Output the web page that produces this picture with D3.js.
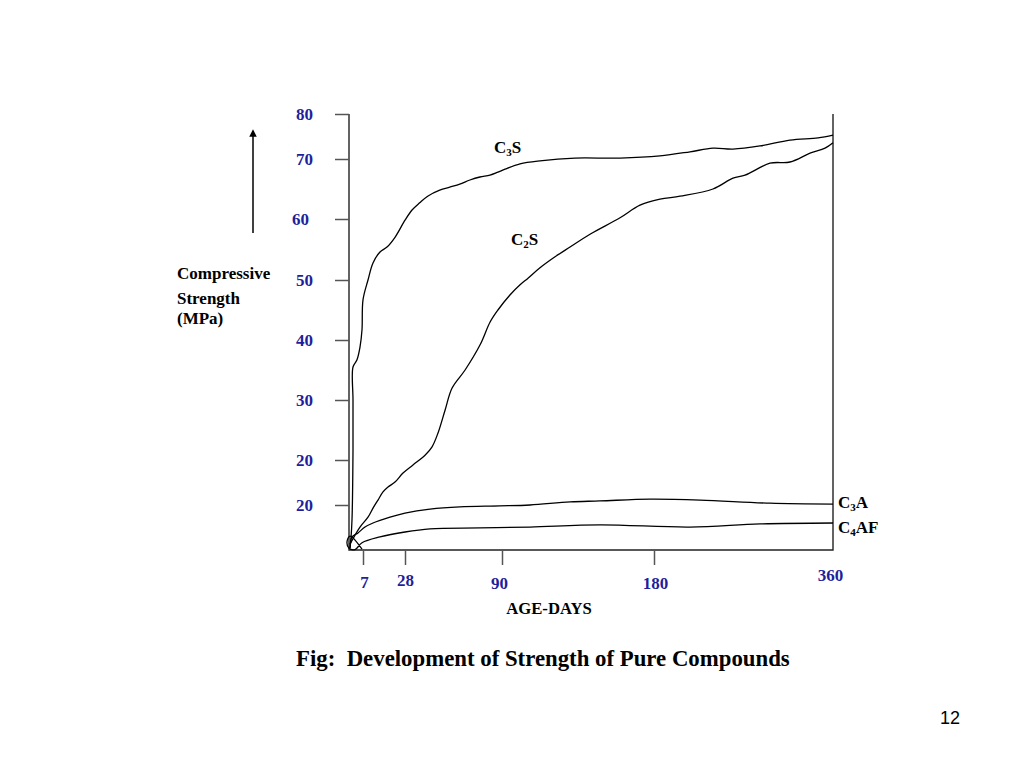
<!DOCTYPE html>
<html>
<head>
<meta charset="utf-8">
<script src="https://cdn.jsdelivr.net/npm/d3@7"></script>
<style>
  body { margin: 0; background: #fff; }
  svg { display: block; }
  .serif { font-family: "Liberation Serif", "Times New Roman", serif; font-weight: bold; }
</style>
</head>
<body>
<div id="chart"></div>
<script>
// data (days, strength on the chart's own axis)
const c3sDays = [0.5, 1, 1.5, 2, 2, 2, 4, 5.5, 6.5, 7, 9.5, 12, 15.5, 19, 23, 28, 32.5, 37.4, 42.5, 50.2, 56.6, 63, 69.5, 75.9, 82.3, 87.4, 91.8, 100.7, 112.5, 133.2, 159.9, 186, 216.2, 239.3, 259.4, 286.6, 316.8, 345, 360];
const c3sVals = [0.4, 2.7, 6.7, 21.7, 30, 35.5, 36.7, 38.8, 41.7, 46.7, 50, 52.8, 54.6, 55.4, 57, 59.8, 61.5, 62.7, 63.8, 64.8, 65.3, 65.8, 66.5, 67, 67.3, 67.8, 68.3, 69.2, 69.7, 70.2, 70.2, 70.7, 71.6, 72.4, 72.2, 72.9, 74.2, 74.7, 75.3];

const c2sDays = [0.5, 3, 5.5, 9.5, 12, 14.5, 17, 19.5, 23, 27, 33.1, 40.8, 45.3, 49.1, 53.6, 58.1, 66.4, 76, 82.4, 87.4, 94.7, 100.7, 105.4, 112.5, 121.4, 130.3, 142.1, 159.9, 171.7, 186, 206.2, 239.3, 259.4, 271.5, 296.6, 316.8, 336.9, 352, 360];
const c2sVals = [1.3, 3.3, 5.1, 7.3, 9.3, 11.1, 12.9, 14, 15.1, 17.1, 18.9, 20.8, 22.2, 24.5, 28.3, 32, 35, 39.2, 43, 45, 47.5, 49.2, 50.3, 52, 53.8, 55.4, 57.5, 60.2, 62.3, 63.3, 63.8, 65, 66.8, 67.3, 69.3, 69.5, 71.3, 72.4, 73.6];

const c3aDays = [0.5, 1.5, 4.5, 8, 12, 20.5, 28, 44, 63.1, 88.7, 106.6, 130.3, 148, 177.6, 226.3, 296.6, 360];
const c3aVals = [0.4, 2.9, 3.8, 5.1, 6, 7.3, 8.2, 9.1, 9.6, 9.8, 10, 10.7, 10.9, 11.3, 11.1, 10.4, 10.2];

// C4AF starts with the small loop drawn at the origin
const c4afDays = [6.5, 0.5, -1, 0, 3, 6.5, 15.5, 28, 44, 76, 106.6, 148, 216.2, 286.6, 360];
const c4afVals = [0.2, 3.1, 1.8, 0.4, 0.1, 1.6, 2.9, 4, 4.7, 4.9, 5.1, 5.6, 5.1, 5.8, 6];

const seriesNames = ["C3S", "C2S", "C3A", "C4AF"];

// axis breakpoints as drawn on the slide (uneven spacing)
const xBreaks = [0, 7, 28, 90, 180, 360];
const yBreaks = [0, 10, 20, 30, 40, 50, 60, 70, 80];
const xTickVals = [7, 28, 90, 180, 360];
const xTickLabels = ["7", "28", "90", "180", "360"];
const yTickVals = [10, 20, 30, 40, 50, 60, 70, 80];
const yTickLabels = ["20", "20", "30", "40", "50", "60", "70", "80"];

const width = 1024, height = 768;
const blue = "#1f1f9c";

const svg = d3.select("#chart")
  .append("svg")
  .attr("width", width)
  .attr("height", height);

// piecewise scales to follow the hand-placed ticks
const x = d3.scaleLinear()
  .domain(xBreaks)
  .range([349, 363, 405, 502, 654, 833]);

const y = d3.scaleLinear()
  .domain(yBreaks)
  .range([550, 505, 460, 400, 340, 280, 219, 159, 114]);

// frame: left, bottom, right
svg.append("path")
  .attr("d", `M${x(0)},${y(80)}V${y(0)}H${x(360)}V${y(80)}`)
  .attr("fill", "none")
  .attr("stroke", "#222")
  .attr("stroke-width", 1.4);

// y axis
const yAxis = svg.append("g")
  .attr("transform", `translate(${x(0)},0)`)
  .call(d3.axisLeft(y)
    .tickValues(yTickVals)
    .tickFormat((d, i) => yTickLabels[i])
    .tickSize(14)
    .tickPadding(22));
yAxis.select(".domain").remove();
yAxis.selectAll(".tick line").attr("stroke", "#555").attr("stroke-width", 1.5);
const yLabelNudge = { 60: -4 };
yAxis.selectAll(".tick text")
  .attr("class", "serif")
  .attr("fill", blue)
  .style("font-size", "17px")
  .attr("dx", d => yLabelNudge[d] || 0)
  .attr("dy", "0.33em");

// x axis
const xAxis = svg.append("g")
  .attr("transform", `translate(0,${y(0)})`)
  .call(d3.axisBottom(x)
    .tickValues(xTickVals)
    .tickFormat((d, i) => xTickLabels[i])
    .tickSize(15)
    .tickPadding(10));
xAxis.select(".domain").remove();
xAxis.selectAll(".tick line")
  .attr("stroke", "#555")
  .attr("stroke-width", 1.5)
  .attr("opacity", d => d === 360 ? 0 : 1);
const xLabelShift = { 7: 2, 28: 0, 90: 3, 180: 3, 360: -5 };
const xLabelNudge = { 7: 1, 28: 0, 90: -3, 180: 1, 360: -3 };
xAxis.selectAll(".tick text")
  .attr("class", "serif")
  .attr("fill", blue)
  .style("font-size", "17px")
  .attr("dx", d => xLabelNudge[d])
  .attr("y", d => 24 + xLabelShift[d])
  .attr("dy", "0.71em");

// curves
const line = d3.line()
  .x(d => x(d[0]))
  .y(d => y(d[1]))
  .curve(d3.curveCatmullRom.alpha(0.5));

const series = [
  d3.zip(c3sDays, c3sVals),
  d3.zip(c2sDays, c2sVals),
  d3.zip(c3aDays, c3aVals),
  d3.zip(c4afDays, c4afVals)
];

svg.append("g")
  .selectAll("path")
  .data(series)
  .join("path")
  .attr("d", line)
  .attr("fill", "none")
  .attr("stroke", "#000")
  .attr("stroke-width", 1.3);

// series labels with subscripts
function compoundLabel(name, px, py) {
  const t = svg.append("text")
    .attr("class", "serif")
    .attr("x", px)
    .attr("y", py)
    .style("font-size", "17px")
    .attr("fill", "#000");
  t.append("tspan").text(name[0]);
  t.append("tspan").text(name[1]).style("font-size", "11px").attr("dy", 3);
  t.append("tspan").text(name.slice(2)).attr("dy", -3);
}
compoundLabel(seriesNames[0], 494, 153);
compoundLabel(seriesNames[1], 511, 245);
compoundLabel(seriesNames[2], x(360) + 5, y(c3aVals[c3aVals.length - 1]) + 4);
compoundLabel(seriesNames[3], x(360) + 5, y(c4afVals[c4afVals.length - 1]) + 10);

// y title and arrow
svg.append("defs").append("marker")
  .attr("id", "arrow")
  .attr("viewBox", "0 0 10 10")
  .attr("refX", 5).attr("refY", 5)
  .attr("markerWidth", 5).attr("markerHeight", 5)
  .attr("orient", "auto")
  .append("path")
  .attr("d", "M0,0L10,5L0,10z")
  .attr("fill", "#000");

svg.append("line")
  .attr("x1", 253).attr("y1", 233)
  .attr("x2", 253).attr("y2", 133)
  .attr("stroke", "#000")
  .attr("stroke-width", 1.5)
  .attr("marker-end", "url(#arrow)");

svg.append("g")
  .selectAll("text")
  .data(["Compressive", "Strength", "(MPa)"])
  .join("text")
  .attr("class", "serif")
  .attr("x", 177)
  .attr("y", (d, i) => [279, 304, 324][i])
  .style("font-size", "17px")
  .text(d => d);

svg.append("text")
  .attr("class", "serif")
  .attr("x", 549)
  .attr("y", 614)
  .attr("text-anchor", "middle")
  .style("font-size", "16.7px")
  .text("AGE-DAYS");

svg.append("text")
  .attr("class", "serif")
  .attr("x", 296)
  .attr("y", 666)
  .style("font-size", "22.8px")
  .style("white-space", "pre")
  .attr("xml:space", "preserve")
  .text("Fig:  Development of Strength of Pure Compounds");

svg.append("text")
  .attr("x", 960)
  .attr("y", 724)
  .attr("text-anchor", "end")
  .style("font-family", "'Liberation Sans', Arial, sans-serif")
  .style("font-size", "18px")
  .text("12");
</script>
</body>
</html>
